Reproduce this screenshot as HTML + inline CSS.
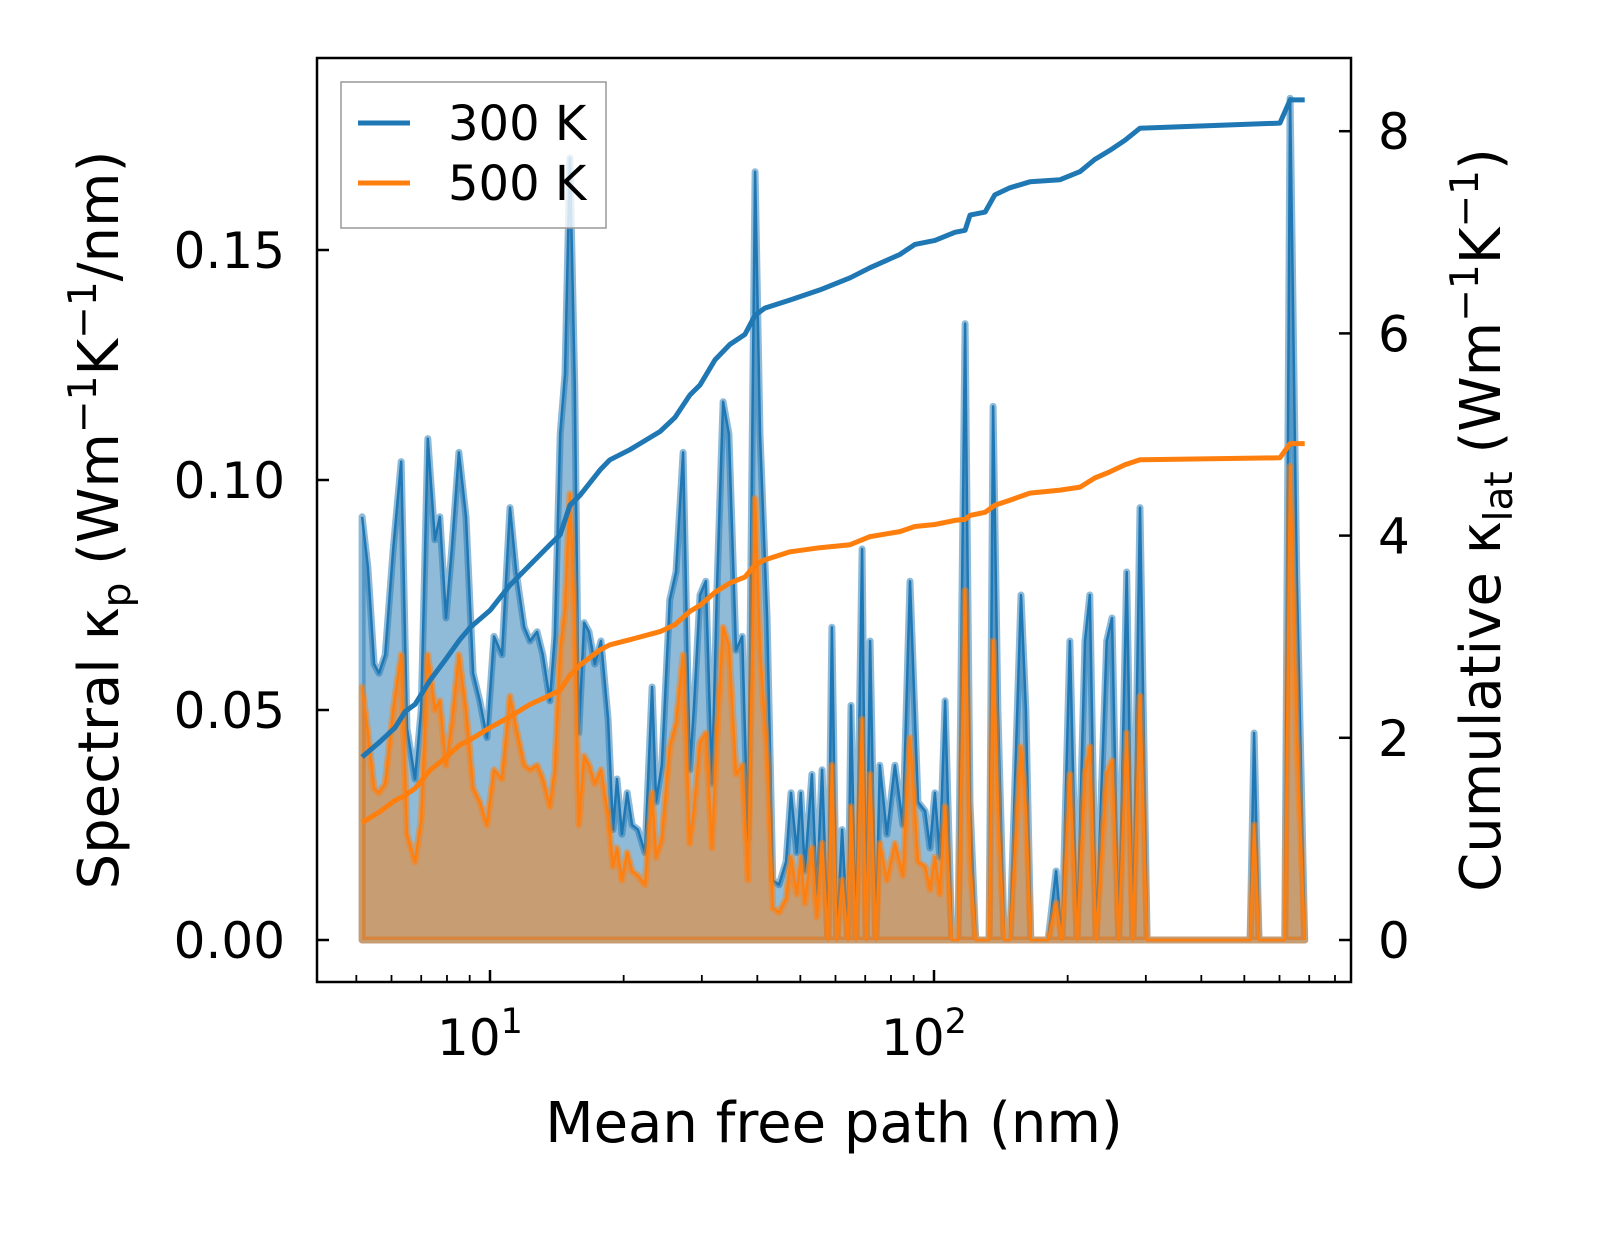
<!DOCTYPE html>
<html><head><meta charset="utf-8"><style>
body{margin:0;background:#fff;}
svg text{font-family:"DejaVu Sans","Liberation Sans",sans-serif;fill:#000;}
</style></head><body>
<svg id="chart" width="1623" height="1254" viewBox="0 0 1623 1254" xmlns="http://www.w3.org/2000/svg" style="position:absolute;left:0;top:0">
<g id="plot"></g>
<g id="axes"></g>
</svg>
<script>
const logMfp=[0.712,0.725,0.739,0.750,0.764,0.782,0.800,0.813,0.831,0.845,0.860,0.876,0.887,0.901,0.914,0.930,0.946,0.962,0.977,0.993,1.009,1.027,1.045,1.059,1.077,1.090,1.106,1.119,1.135,1.146,1.158,1.169,1.180,1.191,1.200,1.212,1.223,1.236,1.250,1.266,1.277,1.286,1.297,1.309,1.320,1.333,1.349,1.365,1.374,1.387,1.405,1.419,1.435,1.450,1.459,1.473,1.486,1.500,1.511,1.525,1.538,1.554,1.568,1.581,1.597,1.608,1.624,1.637,1.651,1.667,1.678,1.691,1.700,1.709,1.725,1.736,1.748,1.761,1.770,1.781,1.793,1.806,1.813,1.824,1.838,1.847,1.856,1.869,1.878,1.894,1.912,1.930,1.946,1.964,1.980,1.991,2.002,2.013,2.025,2.040,2.054,2.070,2.081,2.094,2.124,2.133,2.144,2.158,2.171,2.196,2.207,2.218,2.257,2.275,2.288,2.306,2.322,2.340,2.351,2.365,2.389,2.401,2.416,2.434,2.448,2.464,2.480,2.712,2.721,2.732,2.790,2.802,2.817,2.835];
const spec300=[.092,.081,.060,.058,.062,.085,.104,.046,.035,.050,.109,.087,.092,.070,.085,.106,.092,.058,.052,.044,.066,.062,.094,.080,.068,.065,.067,.062,.052,.066,.110,.123,.170,.120,.045,.069,.067,.060,.065,.048,.024,.035,.023,.032,.025,.024,.019,.055,.030,.038,.074,.080,.106,.037,.050,.075,.078,.034,.076,.117,.110,.063,.066,.022,.167,.110,.070,.013,.012,.017,.032,.019,.032,.015,.036,.010,.037,0,.068,0,.024,0,.051,0,.085,0,.065,0,.038,.023,.038,.025,.078,.030,.028,.020,.032,.018,.052,0,0,.134,.030,0,0,.116,.050,0,0,.075,.050,0,0,.015,0,.065,0,.065,.075,0,.065,.070,0,.080,0,.094,0,0,.045,0,0,.183,.080,0];
const spec500=[.055,.045,.033,.032,.034,.050,.062,.023,.017,.026,.062,.050,.052,.038,.047,.062,.050,.033,.030,.025,.037,.035,.053,.046,.038,.037,.038,.035,.029,.037,.063,.072,.097,.068,.025,.040,.038,.034,.037,.027,.016,.020,.013,.019,.015,.014,.012,.032,.018,.022,.042,.047,.062,.021,.028,.043,.045,.020,.044,.068,.064,.036,.038,.013,.096,.063,.040,.007,.006,.009,.018,.010,.018,.008,.020,.005,.021,0,.038,0,.013,0,.029,0,.048,0,.036,0,.021,.013,.021,.014,.044,.017,.016,.011,.018,.010,.029,0,0,.076,.017,0,0,.065,.028,0,0,.042,.028,0,0,.008,0,.036,0,.036,.042,0,.036,.039,0,.045,0,.053,0,0,.025,0,0,.103,.045,0];
const cumLogMfp=[0.712,0.752,0.786,0.809,0.831,0.865,0.899,0.932,0.955,1.000,1.045,1.090,1.135,1.158,1.180,1.203,1.248,1.270,1.315,1.383,1.417,1.450,1.473,1.507,1.540,1.574,1.597,1.619,1.676,1.743,1.811,1.856,1.923,1.957,2.002,2.047,2.070,2.081,2.115,2.137,2.171,2.216,2.284,2.329,2.362,2.396,2.430,2.464,2.779,2.802,2.835];
const cum300=[1.81,1.96,2.10,2.26,2.33,2.57,2.77,2.97,3.09,3.26,3.51,3.71,3.91,4.01,4.30,4.40,4.65,4.75,4.85,5.03,5.17,5.39,5.49,5.74,5.89,5.99,6.18,6.25,6.33,6.43,6.55,6.65,6.78,6.88,6.92,7.00,7.02,7.17,7.20,7.37,7.44,7.50,7.52,7.60,7.72,7.81,7.91,8.03,8.08,8.31,8.31];
const cum500=[1.16,1.27,1.38,1.43,1.50,1.68,1.80,1.93,1.98,2.10,2.21,2.33,2.42,2.47,2.62,2.72,2.87,2.92,2.97,3.05,3.12,3.25,3.31,3.44,3.53,3.59,3.71,3.76,3.84,3.88,3.91,3.99,4.04,4.09,4.11,4.15,4.16,4.20,4.23,4.30,4.35,4.42,4.45,4.48,4.57,4.63,4.70,4.75,4.77,4.91,4.91];
const leftTicks=[0,0.05,0.10,0.15];
const leftTickLabels=["0.00","0.05","0.10","0.15"];
const rightTicks=[0,2,4,6,8];
const xMajor=[1,2];

const NS="http://www.w3.org/2000/svg";
const L=317,R=1351,T=58,B=982;
const xs=lg=>490+(lg-1)*444;
const yl=v=>940-v*4600;
const yr=v=>940-v*101.1;
const plot=document.getElementById('plot'),axes=document.getElementById('axes');
function mk(tag,attrs,parent){const e=document.createElementNS(NS,tag);for(const k in attrs)e.setAttribute(k,attrs[k]);parent.appendChild(e);return e;}

function drawSpec(vals,color,name){
  let pts=logMfp.map((l,i)=>xs(l).toFixed(1)+','+yl(vals[i]).toFixed(1));
  const f=mk('path',{d:'M'+xs(logMfp[0])+','+yl(0)+' L'+pts.join(' L')+' L'+xs(logMfp[logMfp.length-1])+','+yl(0)+' Z',fill:color,'fill-opacity':0.5,stroke:color,'stroke-opacity':0.5,'stroke-width':7,'stroke-linejoin':'round'},plot);
  
  
  const ln=mk('polyline',{points:pts.join(' '),fill:'none',stroke:color,'stroke-width':2.5,'stroke-linejoin':'round'},plot);
  
  
}
drawSpec(spec300,'#1f77b4','spectral-300k');
drawSpec(spec500,'#ff7f0e','spectral-500k');
function drawCum(vals,color,name){
  const pts=cumLogMfp.map((l,i)=>xs(l).toFixed(1)+','+yr(vals[i]).toFixed(1)).join(' ');
  const ln=mk('polyline',{points:pts,fill:'none',stroke:color,'stroke-width':5,'stroke-linejoin':'round'},plot);
  
  
}
drawCum(cum300,'#1f77b4','cumulative-300k');
drawCum(cum500,'#ff7f0e','cumulative-500k');

const fr=mk('rect',{x:L,y:T,width:R-L,height:B-T,fill:'none',stroke:'#000','stroke-width':2.5},axes);


leftTicks.forEach((v,i)=>{
  const y=yl(v);
  const t=mk('line',{x1:L,x2:L+12,y1:y,y2:y,stroke:'#000','stroke-width':2.5},axes);
  
  
  const tx=mk('text',{x:285,y:y+18,'text-anchor':'end','font-size':50},axes);
  tx.textContent=leftTickLabels[i];
  
  
});
rightTicks.forEach(v=>{
  const y=yr(v);
  const t=mk('line',{x1:R-12,x2:R,y1:y,y2:y,stroke:'#000','stroke-width':2.5},axes);
  
  
  const tx=mk('text',{x:1378,y:y+18,'font-size':50},axes);
  tx.textContent=String(v);
  
  
});
for(let d=0;d<3;d++){for(let m=1;m<10;m++){
  const lg=d+Math.log10(m); const x=xs(lg);
  if(x<L+2||x>R-2)continue;
  const major=(m===1);
  const t=mk('line',{x1:x,x2:x,y1:B,y2:B-(major?12:7),stroke:'#000','stroke-width':major?2.5:1.8},axes);
  
  
}}
xMajor.forEach(p=>{
  const x=xs(p);
  const tx=mk('text',{x:x-10,y:1055,'text-anchor':'middle','font-size':50},axes);
  tx.textContent='10';
  const s=mk('tspan',{dy:-22,'font-size':35},tx);s.textContent=String(p);
  
  
});
</script>
<svg style="position:absolute;left:0;top:0" width="1623" height="1254" xmlns="http://www.w3.org/2000/svg">
<text x="834" y="1142" text-anchor="middle" font-size="56">Mean free path (nm)</text>
<text transform="translate(118,520) rotate(-90)" text-anchor="middle" font-size="56">Spectral κ<tspan font-size="39" dy="12">p</tspan><tspan dy="-12"> (Wm</tspan><tspan font-size="39" dy="-22">−1</tspan><tspan dy="22">K</tspan><tspan font-size="39" dy="-22">−1</tspan><tspan dy="22">/nm)</tspan></text>
<text transform="translate(1500,520) rotate(-90)" text-anchor="middle" font-size="56">Cumulative κ<tspan font-size="39" dy="12">lat</tspan><tspan dy="-12"> (Wm</tspan><tspan font-size="39" dy="-22">−1</tspan><tspan dy="22">K</tspan><tspan font-size="39" dy="-22">−1</tspan><tspan dy="22">)</tspan></text>
<g>
<rect x="341" y="82" width="265" height="146" fill="#fff" fill-opacity="0.8" stroke="#999" stroke-width="1.5"/>
<line x1="358" y1="123" x2="410" y2="123" stroke="#1f77b4" stroke-width="5"/>
<text x="448" y="140" font-size="48">300 K</text>
<line x1="358" y1="183" x2="410" y2="183" stroke="#ff7f0e" stroke-width="5"/>
<text x="448" y="200" font-size="48">500 K</text>
</g>
</svg>
</body></html>
